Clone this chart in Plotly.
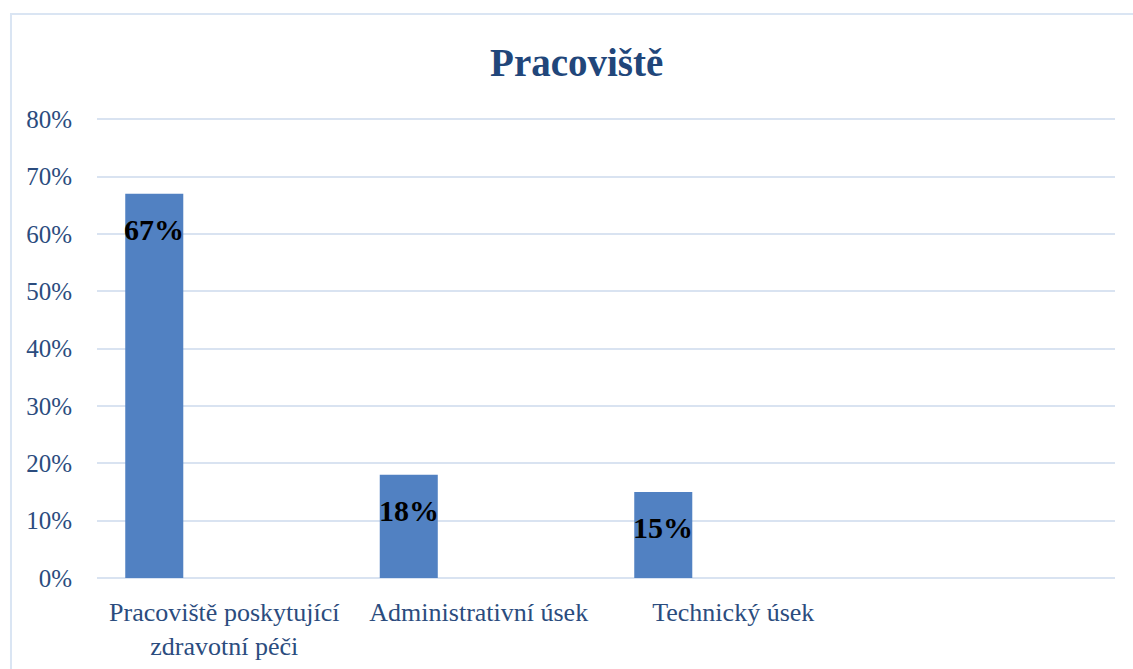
import plotly.graph_objects as go

categories = ["Pracoviště poskytující<br>zdravotní péči", "Administrativní úsek", "Technický úsek", ""]
values = [0.67, 0.18, 0.15]
labels = ["67%", "18%", "15%"]
y_ticks = [0, 0.1, 0.2, 0.3, 0.4, 0.5, 0.6, 0.7, 0.8]

FONT = "Liberation Serif"
TXT = "#2B4C7E"
BAR_OFFSET = -0.389
BAR_WIDTH = 0.228

xs = list(range(len(values)))

fig = go.Figure()
fig.add_trace(go.Bar(
    x=xs, y=values,
    offset=BAR_OFFSET, width=BAR_WIDTH,
    marker=dict(color="#5181C2", line=dict(width=0)),
    hoverinfo="skip",
))

for x, v, t in zip(xs, values, labels):
    fig.add_annotation(x=x + BAR_OFFSET + BAR_WIDTH / 2, y=v, text=f"<b>{t}</b>",
                       showarrow=False, yshift=-36,
                       font=dict(family=FONT, size=30, color="#000000"))

fig.add_shape(type="rect", xref="paper", yref="paper",
              x0=-0.0845, x1=1.2, y0=-0.3, y1=1.226,
              line=dict(color="#DAE5F3", width=2), layer="below")

fig.update_layout(
    width=1133, height=669,
    margin=dict(l=97, r=18, t=118, b=91),
    paper_bgcolor="white", plot_bgcolor="white",
    showlegend=False,
    title=dict(text="<b>Pracoviště</b>", x=0.509, xanchor="center",
               y=1 - 62 / 669, yanchor="middle",
               font=dict(family=FONT, size=39, color="#21467A")),
    xaxis=dict(range=[-0.5, 3.5], tickvals=list(range(len(categories))), ticktext=categories,
               showgrid=False, zeroline=False, showline=False, ticks="", automargin=False,
               tickfont=dict(family=FONT, size=26, color=TXT), ticklabelstandoff=16),
    yaxis=dict(range=[0, 0.802], tickvals=y_ticks, tickformat=".0%", automargin=False,
               showgrid=True, gridcolor="#D9E3F1", gridwidth=2,
               zeroline=True, zerolinecolor="#D9E3F1", zerolinewidth=2,
               showline=False, ticks="",
               tickfont=dict(family=FONT, size=25, color=TXT), ticklabelstandoff=24),
)

fig.write_html("out.html")
